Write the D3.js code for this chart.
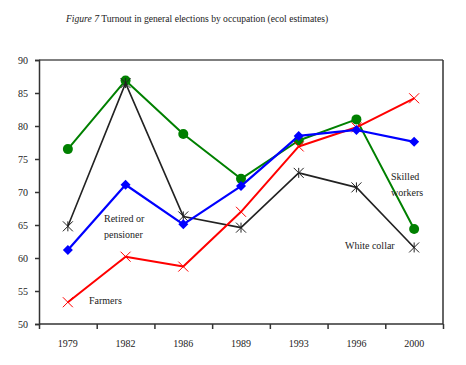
<!DOCTYPE html>
<html><head><meta charset="utf-8">
<script src="https://cdn.jsdelivr.net/npm/d3@7"></script>
<style>
body{margin:0;background:#fff;}
svg{display:block;}
text{font-family:"Liberation Serif","Times New Roman",serif;fill:#222;}
</style></head>
<body>
<svg id="chart" width="466" height="365"></svg>
<script>
const years = ["1979","1982","1986","1989","1993","1996","2000"];
const yTicks = [50,55,60,65,70,75,80,85,90];
const skilledWorkers = [76.5, 86.9, 78.8, 72.0, 77.8, 81.0, 64.4];
const whiteCollar    = [64.8, 86.5, 66.3, 64.6, 72.9, 70.7, 61.6];
const farmers        = [53.3, 60.2, 58.7, 67.0, 76.9, 79.8, 84.2];
const retired        = [61.2, 71.1, 65.1, 70.9, 78.5, 79.4, 77.6];

const svg = d3.select("#chart");
const L = 39, R = 443, T = 60, B = 324;

const x = d3.scaleBand().domain(years).range([L, R]).padding(0);
const xi = d3.scaleLinear().domain([0, years.length]).range([L, R]);
const y = d3.scaleLinear().domain([50, 90]).range([B, T]);

// title
const title = svg.append("text").attr("x", 66).attr("y", 22).style("font-size", "9.6px");
title.append("tspan").style("font-style", "italic").text("Figure 7");
title.append("tspan").text(" Turnout in general elections by occupation (ecol estimates)");

// frame (top & right)
svg.append("line").attr("x1", L).attr("x2", R).attr("y1", T).attr("y2", T)
  .attr("stroke", "#555").attr("stroke-width", 1.5);
svg.append("line").attr("x1", R).attr("x2", R).attr("y1", T).attr("y2", B)
  .attr("stroke", "#333").attr("stroke-width", 1.5);

// y axis
const ya = svg.append("g").attr("transform", `translate(${L},0)`)
  .call(d3.axisLeft(y).tickValues(yTicks).tickSize(4).tickPadding(7));
ya.selectAll("path,line").attr("stroke", "#333").attr("stroke-width", 1.5);
ya.selectAll("text").style("font-size", "10px").style("font-family", '"Liberation Serif",serif').attr("fill", "#222");

// x axis: boundary ticks
const xa = svg.append("g").attr("transform", `translate(0,${B})`)
  .call(d3.axisBottom(xi).tickValues(d3.range(years.length + 1)).tickSize(5).tickFormat(""));
xa.selectAll("path,line").attr("stroke", "#333").attr("stroke-width", 1.5);
xa.select(".domain").attr("d", `M${L},0H${R}`);
// x labels at band centres
const xl = svg.append("g").attr("transform", `translate(0,${B})`)
  .call(d3.axisBottom(x).tickSize(0).tickPadding(16));
xl.select(".domain").remove();
xl.selectAll("text").style("font-size", "10px").style("font-family", '"Liberation Serif",serif').attr("fill", "#222");

const cx = (d, i) => x(years[i]) + x.bandwidth() / 2;
const line = d3.line().x((d, i) => cx(d, i)).y(d => y(d));

const series = [
  {name: "Skilled workers", data: skilledWorkers, color: "#008000", width: 2, marker: "circle"},
  {name: "White collar", data: whiteCollar, color: "#222", width: 1.6, marker: "asterisk"},
  {name: "Farmers", data: farmers, color: "#ff0000", width: 2, marker: "x"},
  {name: "Retired or pensioner", data: retired, color: "#0000ff", width: 2.2, marker: "diamond"}
];

series.forEach(s => {
  svg.append("path").datum(s.data).attr("d", line)
    .attr("fill", "none").attr("stroke", s.color).attr("stroke-width", s.width)
    .attr("stroke-linejoin", "round");
  const g = svg.append("g");
  s.data.forEach((v, i) => {
    const px = cx(v, i), py = y(v);
    if (s.marker === "circle") {
      g.append("circle").attr("cx", px).attr("cy", py).attr("r", 5).attr("fill", s.color);
    } else if (s.marker === "diamond") {
      g.append("path").attr("transform", `translate(${px},${py})`)
        .attr("d", "M0,-5L5,0L0,5L-5,0Z").attr("fill", s.color);
    } else if (s.marker === "x") {
      g.append("path").attr("transform", `translate(${px},${py})`)
        .attr("d", "M-5,-5L5,5M-5,5L5,-5").attr("stroke", s.color).attr("stroke-width", 1).attr("fill", "none");
    } else {
      g.append("path").attr("transform", `translate(${px},${py})`)
        .attr("d", "M-5,-5L5,5M-5,5L5,-5M0,-5L0,5").attr("stroke", s.color).attr("stroke-width", 1).attr("fill", "none");
    }
  });
});

// series labels
const labels = [
  {lines: ["Retired or", "pensioner"], x: 104, y: 222},
  {lines: ["Farmers"], x: 89, y: 304},
  {lines: ["Skilled", "workers"], x: 391, y: 180},
  {lines: ["White collar"], x: 345, y: 249}
];
labels.forEach(l => {
  const t = svg.append("text").attr("x", l.x).attr("y", l.y).style("font-size", "10px");
  l.lines.forEach((s, i) => t.append("tspan").attr("x", l.x).attr("dy", i ? 16 : 0).text(s));
});
</script>
</body></html>
